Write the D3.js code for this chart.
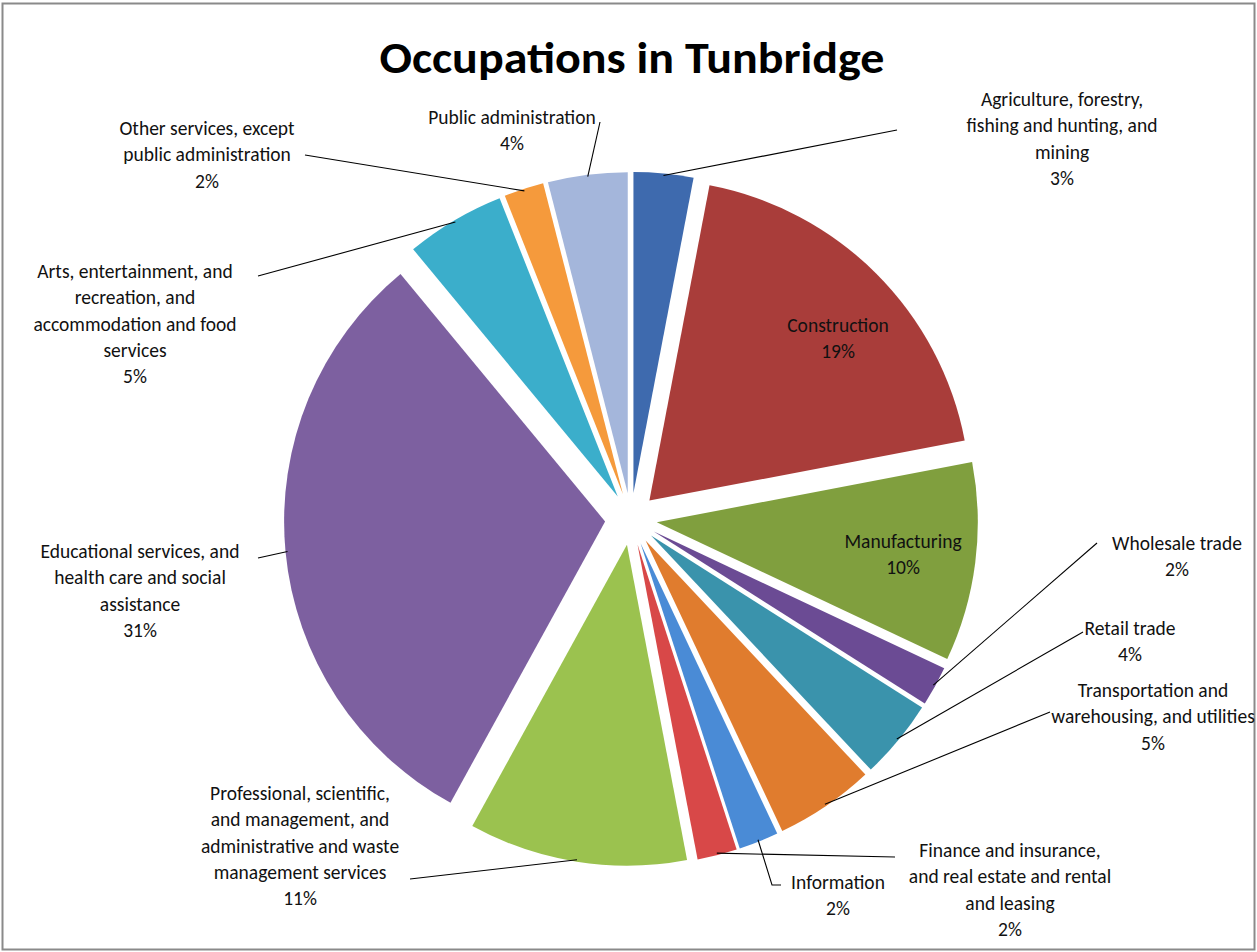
<!DOCTYPE html>
<html>
<head>
<meta charset="utf-8">
<script src="https://d3js.org/d3.v7.min.js"></script>
<style>
  body { margin: 0; background: #fff; }
  svg text { font-family: Carlito, Calibri, Lato, "Open Sans", sans-serif; }
</style>
</head>
<body>
<svg width="1257" height="952"></svg>
<script>
// chart data
const categories = [
  "Agriculture, forestry, fishing and hunting, and mining",
  "Construction",
  "Manufacturing",
  "Wholesale trade",
  "Retail trade",
  "Transportation and warehousing, and utilities",
  "Information",
  "Finance and insurance, and real estate and rental and leasing",
  "Professional, scientific, and management, and administrative and waste management services",
  "Educational services, and health care and social assistance",
  "Arts, entertainment, and recreation, and accommodation and food services",
  "Other services, except public administration",
  "Public administration"
];
const percents = [3, 19, 10, 2, 4, 5, 2, 2, 11, 31, 5, 2, 4];
const colors = ["#3e6aae", "#a93d3a", "#809f3e", "#6b4b94", "#3a93ac", "#e07c2e",
  "#4a8bd6", "#d84848", "#9bc24f", "#7d60a0", "#3baecb", "#f59a3c", "#a4b6db"];

// how each label is broken into lines (Excel wraps them)
const labelLines = [
  ["Agriculture, forestry,", "fishing and hunting, and", "mining"],
  ["Construction"],
  ["Manufacturing"],
  ["Wholesale trade"],
  ["Retail trade"],
  ["Transportation and", "warehousing, and utilities"],
  ["Information"],
  ["Finance and insurance,", "and real estate and rental", "and leasing"],
  ["Professional, scientific,", "and management, and", "administrative and waste", "management services"],
  ["Educational services, and", "health care and social", "assistance"],
  ["Arts, entertainment, and", "recreation, and", "accommodation and food", "services"],
  ["Other services, except", "public administration"],
  ["Public administration"]
];

// label layout: centre x, first baseline y, and leader end (null = label inside)
const labelLayout = [
  {x: 1062, y: 106, end: [[897, 130]]},
  {x: 838, y: 332, end: null},
  {x: 903, y: 548, end: null},
  {x: 1177, y: 550, end: [[1097, 543]]},
  {x: 1130, y: 635, end: [[1083, 632]]},
  {x: 1153, y: 697, end: [[1050, 712]]},
  {x: 838, y: 889, end: [[772, 885], [781, 885]]},
  {x: 1010, y: 857, end: [[895, 857]]},
  {x: 300, y: 800, end: [[410, 879]]},
  {x: 140, y: 558, end: [[258, 558]]},
  {x: 135, y: 278, end: [[258, 276]]},
  {x: 207, y: 135, end: [[305, 155]]},
  {x: 512, y: 124, end: [[600, 122]]}
];

const svg = d3.select("svg"),
    width = +svg.attr("width"),
    height = +svg.attr("height");

// outer frame
svg.append("rect")
    .attr("x", 2.5).attr("y", 3.5)
    .attr("width", width - 5).attr("height", height - 6)
    .attr("fill", "#fff")
    .attr("stroke", "#8a8a8a")
    .attr("stroke-width", 2);

svg.append("text")
    .attr("x", 632)
    .attr("y", 73)
    .attr("text-anchor", "middle")
    .attr("textLength", 505)
    .attr("lengthAdjust", "spacingAndGlyphs")
    .style("font-size", "45px")
    .style("font-weight", "bold")
    .text("Occupations in Tunbridge");

const cx = 631, cy = 519, radius = 321, explode = 26;

const pie = d3.pie().sort(null).value(d => d)(percents);
const arc = d3.arc().innerRadius(0).outerRadius(radius);

const mid = d => (d.startAngle + d.endAngle) / 2;
const off = (d, k) => [k * Math.sin(mid(d)), -k * Math.cos(mid(d))];

const g = svg.append("g").attr("transform", "translate(" + cx + "," + cy + ")");

g.selectAll("path")
    .data(pie)
    .enter().append("path")
    .attr("d", arc)
    .attr("transform", d => "translate(" + off(d, explode) + ")")
    .attr("fill", (d, i) => colors[i]);

// leader lines
const lineGen = d3.line();
g.selectAll("path.leader")
    .data(pie.filter((d, i) => labelLayout[i].end))
    .enter().append("path")
    .attr("class", "leader")
    .attr("fill", "none")
    .attr("stroke", "#000")
    .attr("stroke-width", 1.1)
    .attr("d", d => {
        const i = d.index;
        const s = off(d, explode + radius - 2);
        const pts = [s].concat(labelLayout[i].end.map(p => [p[0] - cx, p[1] - cy]));
        return lineGen(pts);
    });

// labels
const lh = 26.3;
const labels = svg.append("g").selectAll("text")
    .data(pie)
    .enter().append("text")
    .attr("text-anchor", "middle")
    .style("font-size", "19.5px")
    .attr("fill", "#111");

labels.each(function(d, i) {
    const t = d3.select(this);
    const lines = labelLines[i].concat([d.data + "%"]);
    lines.forEach((s, j) => {
        t.append("tspan")
            .attr("x", labelLayout[i].x)
            .attr("y", labelLayout[i].y + j * lh)
            .text(s);
    });
});
</script>
</body>
</html>
